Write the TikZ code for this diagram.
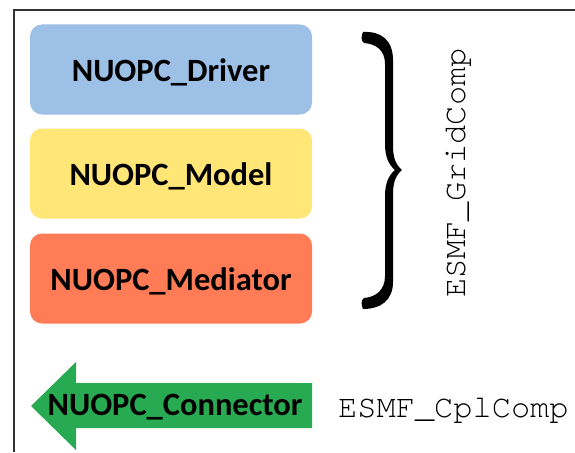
\documentclass[tikz,border=0pt]{standalone}
\usepackage{fontspec}
\setmainfont{Carlito}
\newfontfamily\monofam{texgyrecursor-regular.otf}
\definecolor{drvblue}{RGB}{157,192,231}
\definecolor{mdlyellow}{RGB}{255,230,118}
\definecolor{medorange}{RGB}{255,124,86}
\definecolor{congreen}{RGB}{40,170,82}
\newcommand{\lowered}[1]{\raisebox{-3pt}[\height][\depth]{#1}}
\tikzset{
  compbox/.style={rounded corners=12pt, minimum width=282pt, minimum height=90pt, inner sep=0pt,
    font=\fontsize{32.5}{38}\selectfont\bfseries},
  monotext/.style={font=\monofam\fontsize{32}{38}\selectfont, inner sep=0pt},
}
\begin{document}
\begin{tikzpicture}[x=1pt,y=-1pt]
\useasboundingbox (0,0) rectangle (575,452);
\fill[white] (0,0) rectangle (575,452);
% frame
\draw[line width=1.3pt, black!80] (14,452) -- (14,10) -- (575,10);
% component boxes
\node[compbox, fill=drvblue] (drv) at (171,69.5) {\lowered{NUOPC\_Driver}};
\node[compbox, fill=mdlyellow] (mdl) at (171,173.5) {\lowered{NUOPC\_Model}};
\node[compbox, fill=medorange] (med) at (171,278.5) {\lowered{NUOPC\_Mediator}};
% brace
\fill[black] (363,32) .. controls (381,31) and (393,40) .. (393,60) -- (393,146)
  .. controls (393,158) and (396,165) .. (402,170)
  .. controls (396,175) and (393,182) .. (393,194) -- (393,282)
  .. controls (393,300) and (381,309) .. (363,309)
  .. controls (361,305) and (361,300) .. (364,298)
  .. controls (376,297) and (385,290) .. (385,276) -- (385,196)
  .. controls (385,183) and (389,175) .. (395,170)
  .. controls (389,165) and (385,157) .. (385,144) -- (385,64)
  .. controls (385,50) and (376,44) .. (364,43)
  .. controls (361,41) and (361,36) .. (363,32) -- cycle;
\node[monotext, rotate=90] (grid) at (459,173) {ESMF\_GridComp};
% connector arrow
\fill[congreen] (31,406) -- (76,362) -- (76,383) -- (312,383) -- (312,428) -- (76,428) -- (76,450) -- cycle;
\node[font=\fontsize{32.5}{38}\selectfont\bfseries, inner sep=0pt] (con) at (175,407) {NUOPC\_Connector};
\node[monotext, anchor=base west] (cpl) at (338,417) {ESMF\_CplComp};
\end{tikzpicture}
\end{document}
